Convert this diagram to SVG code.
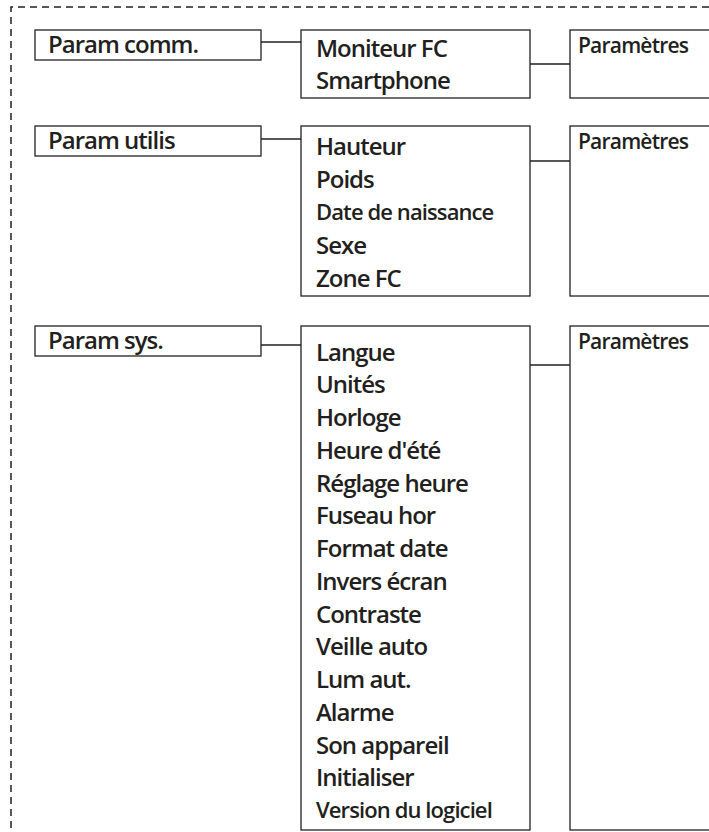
<svg xmlns="http://www.w3.org/2000/svg" width="709" height="832" viewBox="0 0 709 832">
<style>
.b{fill:#fff;stroke:#231f20;stroke-width:1.3}
.t{font-family:"Open Sans",sans-serif;font-weight:600;font-size:24px;fill:#231f20;letter-spacing:-1px}
.s{font-size:22px;letter-spacing:-0.9px}
.p{font-size:21px;letter-spacing:-0.8px}
.c{stroke:#231f20;stroke-width:1.5;fill:none}
</style>
<rect width="709" height="832" fill="#fff"/>
<path d="M11 840 V7 H712" fill="none" stroke="#231f20" stroke-width="1.5" stroke-dasharray="7,5"/>
<g id="connectors">
<path class="c" d="M261 42 H301"/><path class="c" d="M530 64 H570"/>
<path class="c" d="M261 139 H301"/><path class="c" d="M530 161 H570"/>
<path class="c" d="M261 345 H301"/><path class="c" d="M530 365 H570"/>
</g>
<g id="comm"><rect class="b" x="35" y="30" width="226" height="30"/><text class="t" x="48" y="53">Param comm.</text></g>
<g id="comm-list"><rect class="b" x="301" y="30" width="229" height="68"/><text class="t" x="316" y="57">Moniteur FC</text><text class="t" x="316" y="89">Smartphone</text></g>
<g id="comm-p"><rect class="b" x="570" y="30" width="145" height="68"/><text class="t p" x="578" y="53">Paramètres</text></g>
<g id="utilis"><rect class="b" x="35" y="126" width="226" height="30"/><text class="t" x="48" y="149">Param utilis</text></g>
<g id="utilis-list"><rect class="b" x="301" y="126" width="229" height="170"/>
<text class="t" x="316" y="155">Hauteur</text><text class="t" x="316" y="188">Poids</text><text class="t s" x="316" y="220">Date de naissance</text><text class="t" x="316" y="254">Sexe</text><text class="t" x="316" y="287">Zone FC</text></g>
<g id="utilis-p"><rect class="b" x="570" y="126" width="145" height="170"/><text class="t p" x="578" y="149">Paramètres</text></g>
<g id="sys"><rect class="b" x="35" y="326" width="226" height="30"/><text class="t" x="48" y="349">Param sys.</text></g>
<g id="sys-list"><rect class="b" x="301" y="326" width="229" height="504"/>
<text class="t" x="316" y="361">Langue</text><text class="t" x="316" y="393">Unités</text><text class="t" x="316" y="426">Horloge</text><text class="t" x="316" y="459">Heure d'été</text><text class="t" x="316" y="492">Réglage heure</text><text class="t" x="316" y="524">Fuseau hor</text><text class="t" x="316" y="557">Format date</text><text class="t" x="316" y="590">Invers écran</text><text class="t" x="316" y="623">Contraste</text><text class="t" x="316" y="655">Veille auto</text><text class="t" x="316" y="688">Lum aut.</text><text class="t" x="316" y="721">Alarme</text><text class="t" x="316" y="754">Son appareil</text><text class="t" x="316" y="786">Initialiser</text><text class="t s" x="316" y="818">Version du logiciel</text></g>
<g id="sys-p"><rect class="b" x="570" y="326" width="145" height="504"/><text class="t p" x="578" y="349">Paramètres</text></g>
</svg>
